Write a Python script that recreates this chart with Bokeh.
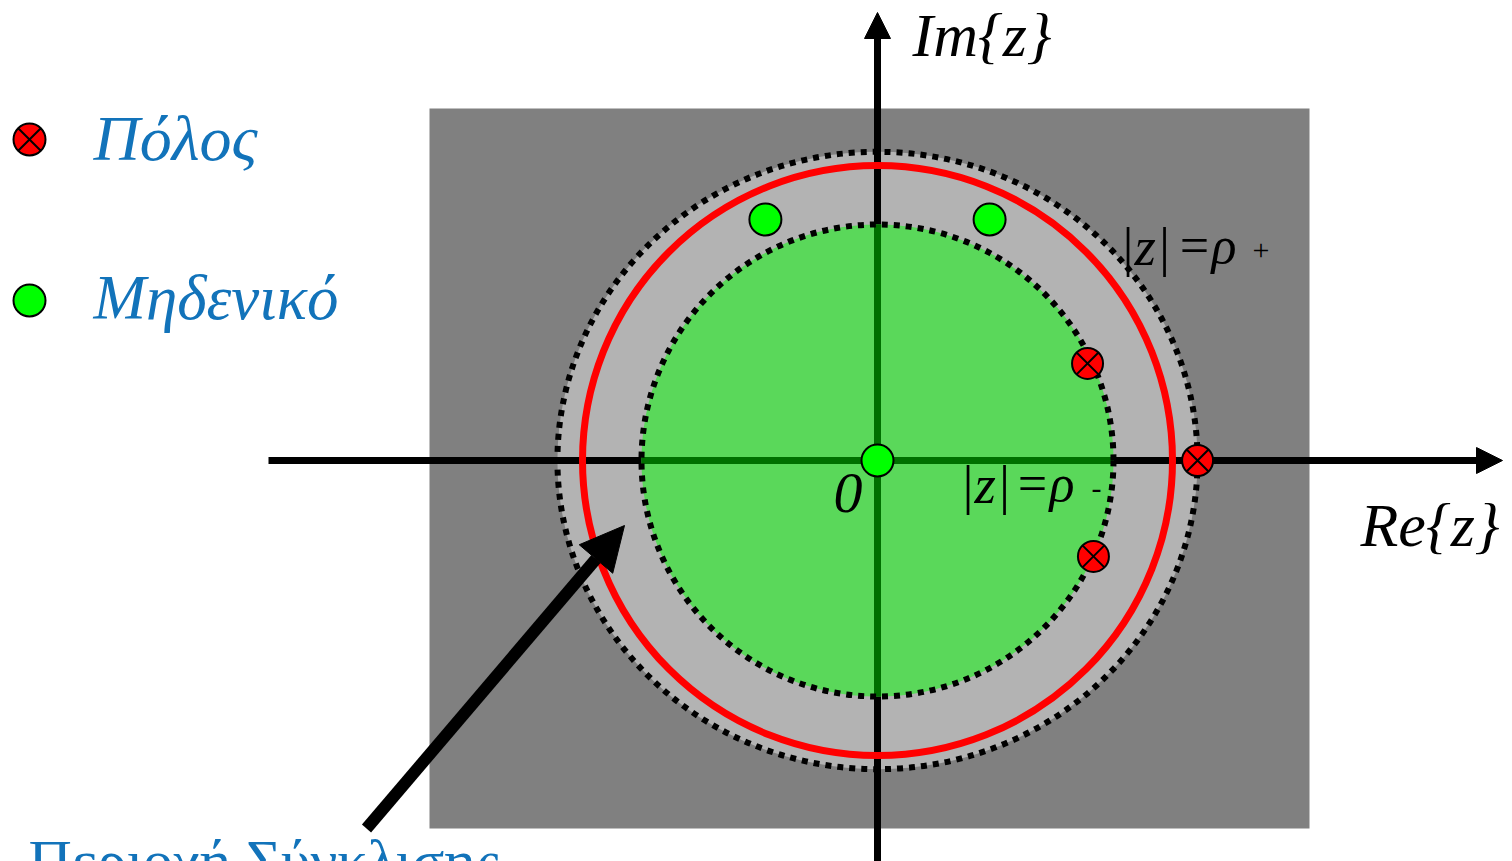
from bokeh.plotting import figure
from bokeh.models import Arrow, NormalHead, Range1d
from bokeh.core.properties import value
from bokeh.embed import file_html
from bokeh.resources import INLINE

# ---------------- data (complex plane units; unit circle = red) ----------------
rho_minus = 0.80          # |z| = rho-
rho_plus = 1.085          # |z| = rho+
unit_radius = 1.0
pole_re = [0.712, 0.732, 1.085]
pole_im = [0.329, -0.325, 0.0]
zero_re = [-0.380, 0.380, 0.0]
zero_im = [0.817, 0.817, 0.0]
legend_labels = ["Πόλος", "Μηδενικό"]
axis_labels = ["Re{z}", "Im{z}"]
roc_label = "Περιοχή Σύγκλισης"

# ---------------- layout helpers (page pixels -> plane units) ----------------
S = 295.0
OX, OY = 877.0, 460.0
def px(x, y):
    return ((x - OX) / S, (OY - y) / S)

def base(y, fs):
    # anchor for an alphabetic baseline at page pixel y
    return px(0, y - 0.385 * fs)[1]

W, H = 1512, 861
x0, _ = px(0, 0)
x1, _ = px(W, 0)
_, y0 = px(0, H)
_, y1 = px(0, 0)

p = figure(width=W, height=H, output_backend="svg", toolbar_location=None,
           x_range=Range1d(x0, x1), y_range=Range1d(y0, y1),
           x_axis_location=None, y_axis_location=None, min_border=0,
           background_fill_color="white", border_fill_color="white")
p.grid.visible = False
p.outline_line_color = None

FONT = value("Liberation Serif")
BLUE = "#1273BA"

# gray background rectangle
gl, gt = px(429, 108)
gr, gb = px(1309, 828)
p.quad(left=[gl], right=[gr], top=[gt], bottom=[gb], fill_color="#808080", line_color=None)

# ROC annulus (light gray)
p.ellipse(x=[0], y=[0], width=[2 * rho_plus], height=[2 * rho_plus * 0.965],
          fill_color="#B3B3B3", line_color=None)

# axes lines
hx0, _ = px(268, 0)
hx1, _ = px(1490, 0)
_, vy0 = px(0, 870)
_, vy1 = px(0, 25)
p.segment(x0=[hx0, 0], y0=[0, vy0], x1=[hx1, 0], y1=[0, vy1], line_color="black", line_width=7)

# inner disk (green) with dark green axes inside
p.circle(x=[0], y=[0], radius=rho_minus, fill_color="#5AD85A", line_color=None)
p.segment(x0=[-rho_minus, 0], y0=[0, -rho_minus], x1=[rho_minus, 0], y1=[0, rho_minus],
          line_color="#007000", line_width=7)
p.circle(x=[0], y=[0], radius=rho_minus, fill_color=None, line_color="black",
         line_width=6, line_dash="6 6")

# unit circle
p.circle(x=[0], y=[0], radius=unit_radius, fill_color=None, line_color="#FF0000", line_width=7)

# outer dotted boundary
p.ellipse(x=[0], y=[0], width=[2 * rho_plus], height=[2 * rho_plus * 0.965],
          fill_color=None, line_color="black", line_width=6, line_dash="6 6")

# arrow heads of the axes
hs0, _ = px(1470, 0)
hs1, _ = px(1502, 0)
_, vs0 = px(0, 45)
_, vs1 = px(0, 12)
p.add_layout(Arrow(end=NormalHead(size=26, fill_color="black", line_color="black", line_width=1),
                   x_start=hs0, y_start=0, x_end=hs1, y_end=0, line_width=7, line_color="black"))
p.add_layout(Arrow(end=NormalHead(size=26, fill_color="black", line_color="black", line_width=1),
                   x_start=0, y_start=vs0, x_end=0, y_end=vs1, line_width=7, line_color="black"))

# big pointer arrow
ax0, ay0 = px(366, 828)
ax1, ay1 = px(624, 525)
p.add_layout(Arrow(end=NormalHead(size=44, fill_color="black", line_color="black", line_width=1),
                   x_start=ax0, y_start=ay0, x_end=ax1, y_end=ay1, line_width=12, line_color="black"))

# poles and zeros
p.scatter(x=zero_re, y=zero_im, marker="circle", size=32, fill_color="#00FF00",
          line_color="black", line_width=2)
p.scatter(x=pole_re, y=pole_im, marker="circle_x", size=31, fill_color="#FF0000",
          line_color="black", line_width=2)

# legend
lx, ly1 = px(29, 139)
_, ly2 = px(29, 300)
p.scatter(x=[lx], y=[ly1], marker="circle_x", size=32, fill_color="#FF0000",
          line_color="black", line_width=2)
p.scatter(x=[lx], y=[ly2], marker="circle", size=32, fill_color="#00FF00",
          line_color="black", line_width=2)
tx, _ = px(93, 0)
p.text(x=[tx], y=[base(163, 64)], text=[legend_labels[0]], text_font=FONT, text_font_style="italic",
       text_font_size="64px", text_color=BLUE, text_baseline="alphabetic", text_align="left")
p.text(x=[tx], y=[base(322, 63)], text=[legend_labels[1]], text_font=FONT, text_font_style="italic",
       text_font_size="63px", text_color=BLUE, text_baseline="alphabetic", text_align="left")

# axis labels
rx, _ = px(1360, 0)
ix, _ = px(912, 0)
p.text(x=[rx, ix], y=[base(548, 62), base(58, 62)], text=axis_labels, text_font=FONT,
       text_font_style="italic", text_font_size="62px", text_color="black",
       text_baseline="alphabetic", text_align="left")

# circle labels |z|=rho+ and |z|=rho-
a1, _ = px(1119, 0)
a2, _ = px(959, 0)
p.text(x=[a1, a2], y=[base(267, 55), base(505, 55)], text=["|z|", "|z|"], text_font=FONT,
       text_font_style="italic", text_font_size="55px", text_color="black",
       text_baseline="alphabetic", text_align="left")
e1, _ = px(1176, 0)
e2, _ = px(1014, 0)
p.text(x=[e1, e2], y=[base(265, 52), base(503, 52)], text=["=ρ", "=ρ"], text_font=FONT,
       text_font_style="italic", text_font_size="52px", text_color="black",
       text_baseline="alphabetic", text_align="left")
s1, _ = px(1252, 0)
s2, _ = px(1091, 0)
p.text(x=[s1, s2], y=[base(262, 30), base(500, 30)], text=["+", "-"], text_font=FONT,
       text_font_size="30px", text_color="black", text_baseline="alphabetic", text_align="left")

# origin label
ox, _ = px(833, 0)
p.text(x=[ox], y=[base(515, 58)], text=["0"], text_font=FONT, text_font_style="italic",
       text_font_size="58px", text_color="black", text_baseline="alphabetic", text_align="left")

# ROC label (cut off at bottom, as in the original)
bx, _ = px(28, 0)
p.text(x=[bx], y=[px(0, 860)[1]], text=[roc_label], text_font=FONT, text_font_size="60px",
       text_color=BLUE, text_baseline="alphabetic", text_align="left")

open("out.html", "w").write(file_html(p, INLINE))
